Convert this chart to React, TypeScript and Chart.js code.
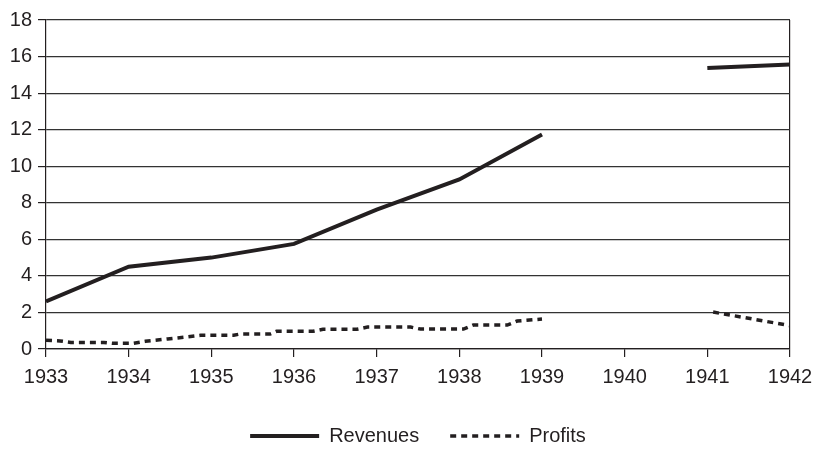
import React, { useEffect, useRef } from "react";
import { Chart, registerables } from "chart.js";

Chart.register(...registerables);

const revenueYears = [1933, 1934, 1935, 1936, 1937, 1938, 1939, 1940, 1941, 1942];
const revenueValues = [2.6, 4.5, 5.0, 5.75, 7.62, 9.28, 11.74, null, 15.37, 15.57];

const profitYears = [
  1933.0, 1933.17, 1933.3, 1933.7, 1933.8, 1934.05, 1934.2, 1934.47, 1934.7, 1934.87,
  1935.27, 1935.35, 1935.71, 1935.79, 1936.23, 1936.35, 1936.76, 1936.89, 1937.41,
  1937.53, 1938.05, 1938.17, 1938.58, 1938.7, 1939.0, 1940.0, 1941.07, 1942.0,
];
const profitValues = [
  0.48, 0.44, 0.36, 0.36, 0.31, 0.31, 0.42, 0.55, 0.66, 0.75,
  0.75, 0.82, 0.82, 0.97, 0.97, 1.08, 1.08, 1.2, 1.2,
  1.09, 1.09, 1.31, 1.31, 1.53, 1.64, null, 2.02, 1.28,
];

const seriesNames = ["Revenues", "Profits"];
const yTicks = { min: 0, max: 18, step: 2 };
const xRange = { min: 1933, max: 1942 };

const INK = "#231f20";
const FONT = { family: "'Liberation Sans', Arial, sans-serif", size: 20 };

const legendShift = {
  id: "legendShift",
  afterLayout(c: any) {
    if (c.legend) {
      c.legend.left += 23;
      c.legend.right += 23;
    }
  },
};

export default function App() {
  const ref = useRef<HTMLCanvasElement | null>(null);

  useEffect(() => {
    if (!ref.current) return;
    const chart = new Chart(ref.current, {
      type: "line",
      plugins: [legendShift],
      data: {
        datasets: [
          {
            label: seriesNames[0],
            data: revenueYears.map((x, i) => ({ x, y: revenueValues[i] })),
            borderColor: INK,
            backgroundColor: INK,
            borderWidth: 4,
            pointRadius: 0,
            tension: 0,
            spanGaps: false,
          },
          {
            label: seriesNames[1],
            data: profitYears.map((x, i) => ({ x, y: profitValues[i] })),
            borderColor: INK,
            backgroundColor: INK,
            borderWidth: 3.5,
            borderDash: [6, 5],
            pointRadius: 0,
            tension: 0,
            spanGaps: false,
          },
        ],
      },
      options: {
        animation: false,
        responsive: true,
        maintainAspectRatio: false,
        layout: { padding: { top: 20, right: 26, left: 0, bottom: 0 } },
        plugins: {
          tooltip: { enabled: false },
          legend: {
            position: "bottom",
            labels: {
              usePointStyle: false,
              boxWidth: 69,
              boxHeight: 0,
              padding: 31,
              color: INK,
              font: FONT,
              generateLabels: (c: any) =>
                Chart.defaults.plugins.legend.labels
                  .generateLabels(c)
                  .map((l: any) => ({ ...l, fillStyle: "rgba(0,0,0,0)" })),
            },
          },
        },
        scales: {
          x: {
            type: "linear",
            min: xRange.min,
            max: xRange.max,
            afterFit: (s: any) => {
              s.height = 46;
              s.paddingRight = 0;
              s.paddingLeft = 0;
            },
            ticks: {
              stepSize: 1,
              autoSkip: false,
              maxRotation: 0,
              color: INK,
              font: FONT,
              padding: 8,
              callback: (v: any) => String(v),
            },
            grid: {
              drawOnChartArea: true,
              color: (c: any) => (c.index === 9 ? INK : "rgba(0,0,0,0)"),
              tickColor: INK,
              tickLength: 8,
              lineWidth: 1.2,
            },
            border: { color: INK, width: 1.2 },
          },
          y: {
            min: yTicks.min,
            max: yTicks.max,
            afterFit: (s: any) => {
              s.width = 46;
            },
            ticks: {
              stepSize: yTicks.step,
              color: INK,
              font: FONT,
              padding: 6,
            },
            grid: {
              color: "#333",
              tickColor: INK,
              tickLength: 8,
              lineWidth: 1.2,
            },
            border: { color: INK, width: 1.2 },
          },
        },
      },
    });
    return () => chart.destroy();
  }, []);

  return (
    <div style={{ position: "absolute", left: 0, top: 0, width: 816, height: 456 }}>
      <canvas ref={ref} />
    </div>
  );
}
